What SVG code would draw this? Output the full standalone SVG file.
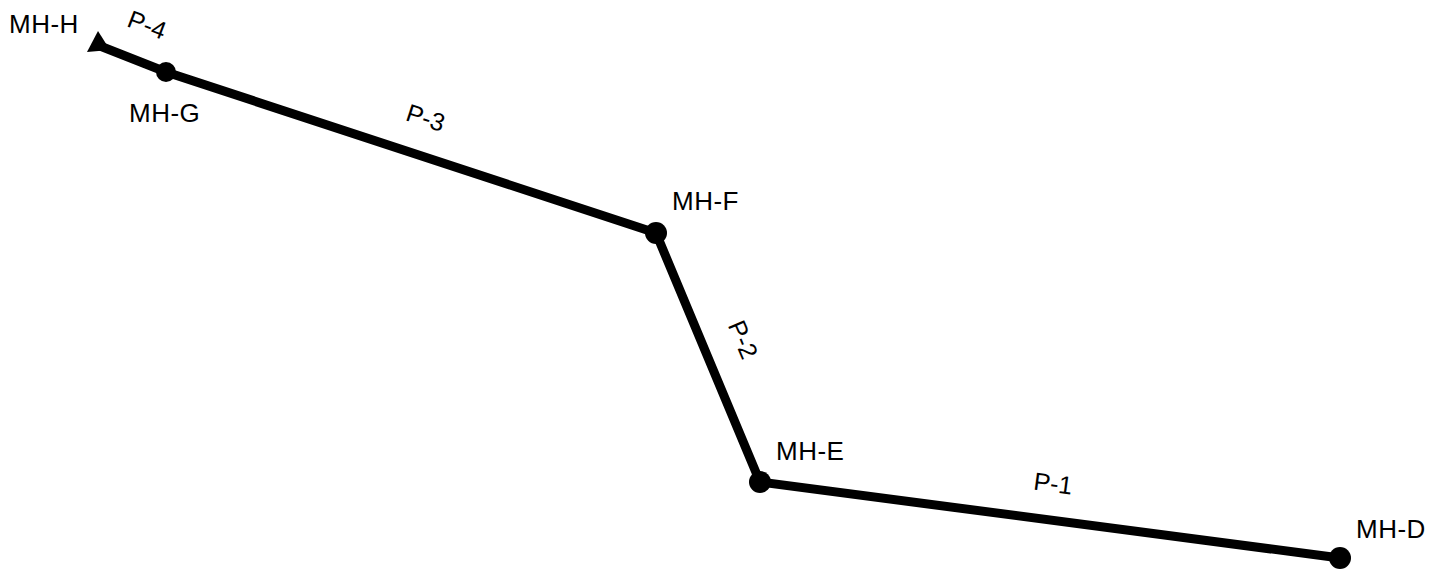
<svg xmlns="http://www.w3.org/2000/svg" width="1452" height="570" viewBox="0 0 1452 570">
<style>
.lbl{font-family:"Liberation Sans",Arial,sans-serif;font-size:26px;fill:#000;letter-spacing:0.5px}
.pl{font-family:"Liberation Sans",Arial,sans-serif;font-size:25px;fill:#000}
.pipe{stroke:#000;stroke-width:9;fill:none;stroke-linecap:round}
.mh{fill:#000}
</style>
<rect width="1452" height="570" fill="#fff"/>
<g id="connectors">
<line class="pipe" x1="100" y1="46" x2="166" y2="72"/>
<line class="pipe" x1="166" y1="72" x2="656" y2="233"/>
<line class="pipe" x1="656" y1="233" x2="760" y2="482"/>
<line class="pipe" x1="760" y1="482" x2="1340" y2="558"/>
<text class="pl" transform="translate(144,33) rotate(21)" text-anchor="middle">P-4</text>
<text class="pl" transform="translate(423,126) rotate(18)" text-anchor="middle">P-3</text>
<text class="pl" transform="translate(735,343) rotate(67)" text-anchor="middle">P-2</text>
<text class="pl" transform="translate(1052,492) rotate(7.5)" text-anchor="middle">P-1</text>
</g>
<g id="MH-H">
<polygon class="mh" points="98,31 87,52 110,50"/>
<text class="lbl" x="9" y="33">MH-H</text>
</g>
<g id="MH-G">
<circle class="mh" cx="166" cy="72" r="10"/>
<text class="lbl" x="129" y="122">MH-G</text>
</g>
<g id="MH-F">
<circle class="mh" cx="656" cy="233" r="11"/>
<text class="lbl" x="672" y="210">MH-F</text>
</g>
<g id="MH-E">
<circle class="mh" cx="760" cy="482" r="11"/>
<text class="lbl" x="776" y="460">MH-E</text>
</g>
<g id="MH-D">
<circle class="mh" cx="1340" cy="558" r="11"/>
<text class="lbl" x="1356" y="538">MH-D</text>
</g>
</svg>
